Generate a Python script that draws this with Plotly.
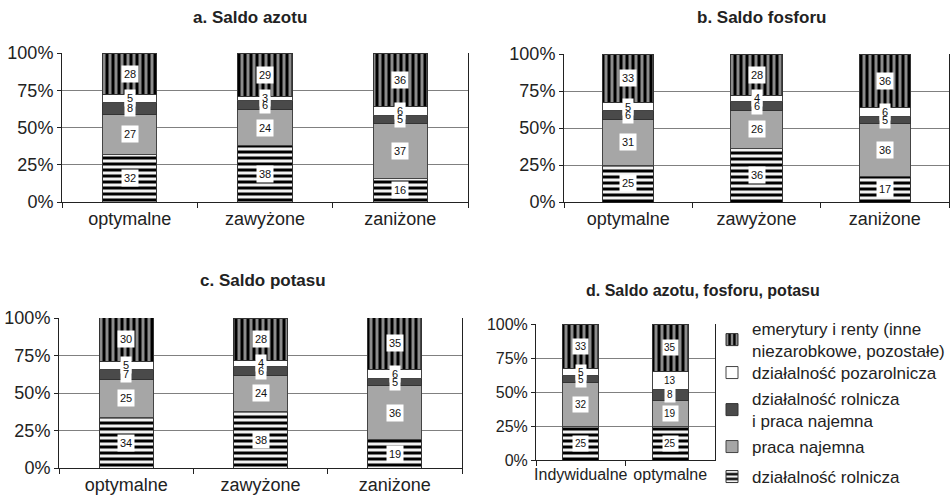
import plotly.graph_objects as go

FONT = "Arial, Liberation Sans, sans-serif"

cats_abc = ["optymalne", "zawyżone", "zaniżone"]
cats_d = ["Indywidualne", "optymalne"]

series_names = [
    "działalność rolnicza",
    "praca najemna",
    "działalność rolnicza<br>i praca najemna",
    "działalność pozarolnicza",
    "emerytury i renty (inne<br>niezarobkowe, pozostałe)",
]

# panel a. Saldo azotu
a_rolnicza = [32, 38, 16]
a_praca = [27, 24, 37]
a_rol_praca = [8, 6, 5]
a_pozarol = [5, 3, 6]
a_emerytury = [28, 29, 36]

# panel b. Saldo fosforu
b_rolnicza = [25, 36, 17]
b_praca = [31, 26, 36]
b_rol_praca = [6, 6, 5]
b_pozarol = [5, 4, 6]
b_emerytury = [33, 28, 36]

# panel c. Saldo potasu
c_rolnicza = [34, 38, 19]
c_praca = [25, 24, 36]
c_rol_praca = [7, 6, 5]
c_pozarol = [5, 4, 6]
c_emerytury = [30, 28, 35]

# panel d. Saldo azotu, fosforu, potasu
d_rolnicza = [25, 25]
d_praca = [32, 19]
d_rol_praca = [5, 8]
d_pozarol = [5, 13]
d_emerytury = [33, 35]

y_tickvals = [0, 25, 50, 75, 100]
y_ticktext = ["0%", "25%", "50%", "75%", "100%"]

titles = ["a. Saldo azotu", "b. Saldo fosforu", "c. Saldo potasu", "d. Saldo azotu, fosforu, potasu"]

markers = [
    dict(color="white", line=dict(color="#333333", width=1),
         pattern=dict(shape="-", fgcolor="black", bgcolor="#f2f2f2", size=6, solidity=0.5, fillmode="replace")),
    dict(color="#a6a6a6", line=dict(color="#444444", width=1)),
    dict(color="#4a4a4a", line=dict(color="#333333", width=1)),
    dict(color="white", line=dict(color="#444444", width=1)),
    dict(color="#8c8c8c", line=dict(color="#333333", width=1),
         pattern=dict(shape="|", fgcolor="black", bgcolor="#8c8c8c", size=6, solidity=0.5, fillmode="replace")),
]

panels = [
    (cats_abc, [a_rolnicza, a_praca, a_rol_praca, a_pozarol, a_emerytury]),
    (cats_abc, [b_rolnicza, b_praca, b_rol_praca, b_pozarol, b_emerytury]),
    (cats_abc, [c_rolnicza, c_praca, c_rol_praca, c_pozarol, c_emerytury]),
    (cats_d, [d_rolnicza, d_praca, d_rol_praca, d_pozarol, d_emerytury]),
]

W, H = 951, 501
def xd(a, b):
    return [a / W, b / W]
def yd(top, bottom):
    return [1 - bottom / H, 1 - top / H]

x_domains = [xd(62, 468), xd(564, 949), xd(59, 462), xd(536, 715)]
y_domains = [yd(53, 202), yd(54, 202), yd(318, 468), yd(324, 460)]
title_pos = [(250, 18), (761, 18), (263, 280), (703, 290)]
title_sizes = [17, 17, 17, 16]
# legend entry centres (pixels from top), one legend box per series
legend_centres = [477, 447, 410, 373, 340]
legend_ids = ["legend5", "legend4", "legend3", "legend2", "legend"]

fig = go.Figure()
box_layer = []
text_layer = []
title_layer = []

for p, (cats, series) in enumerate(panels):
    ax = "" if p == 0 else str(p + 1)
    for s, vals in enumerate(series):
        fig.add_trace(go.Bar(
            x=cats, y=vals, name=series_names[s],
            xaxis="x" + ax, yaxis="y" + ax,
            marker=markers[s], width=0.4,
            showlegend=(p == 3), legend=legend_ids[s],
        ))
    fsize = 11 if p < 3 else 10
    for i, c in enumerate(cats):
        base = 0
        for s, vals in enumerate(series):
            v = vals[i]
            common = dict(x=c, y=base + v / 2, xref="x" + ax, yref="y" + ax,
                          showarrow=False, borderpad=2)
            box_layer.append(dict(common, text="&nbsp;&nbsp;" * len(str(v)),
                                  font=dict(family=FONT, size=fsize, color="black"),
                                  bgcolor="white"))
            text_layer.append(dict(common, text=str(v),
                                   font=dict(family=FONT, size=fsize, color="#111111")))
            base += v
    tx, ty = title_pos[p]
    title_layer.append(dict(
        x=tx / W, y=1 - ty / H, xref="paper", yref="paper",
        text="<b>" + titles[p] + "</b>", showarrow=False,
        font=dict(family=FONT, size=title_sizes[p], color="#222222"),
        xanchor="center", yanchor="middle",
    ))

layout = dict(
    width=W, height=H,
    margin=dict(l=0, r=0, t=0, b=0, autoexpand=False),
    paper_bgcolor="white", plot_bgcolor="white",
    barmode="stack",
    font=dict(family=FONT, color="#222222"),
    annotations=box_layer + text_layer + title_layer,
)

for s in range(5):
    layout[legend_ids[s]] = dict(
        x=712 / W, y=1 - legend_centres[s] / H, xanchor="left", yanchor="middle",
        font=dict(family=FONT, size=17, color="#222222"),
        bgcolor="rgba(0,0,0,0)", borderwidth=0,
    )

for p in range(4):
    ax = "" if p == 0 else str(p + 1)
    fs = 18 if p < 3 else 16
    layout["xaxis" + ax] = dict(
        domain=x_domains[p], anchor="y" + ax, automargin=False,
        showline=True, linecolor="#222222", linewidth=1,
        ticks="outside", ticklen=5, tickcolor="#222222", tickson="boundaries",
        tickangle=0, showgrid=False,
        tickfont=dict(family=FONT, size=fs, color="#222222"),
    )
    layout["yaxis" + ax] = dict(
        domain=y_domains[p], anchor="x" + ax, automargin=False,
        range=[0, 100], tickvals=y_tickvals, ticktext=y_ticktext,
        showline=True, linecolor="#222222", linewidth=1, mirror=True,
        ticks="outside", ticklen=4, tickcolor="#222222",
        showgrid=True, gridcolor="#808080", gridwidth=1,
        zeroline=False,
        tickfont=dict(family=FONT, size=fs, color="#222222"),
    )

fig.update_layout(**layout)
fig.write_html("out.html", config={"displayModeBar": False},
               post_script="document.body.style.margin='0';")
